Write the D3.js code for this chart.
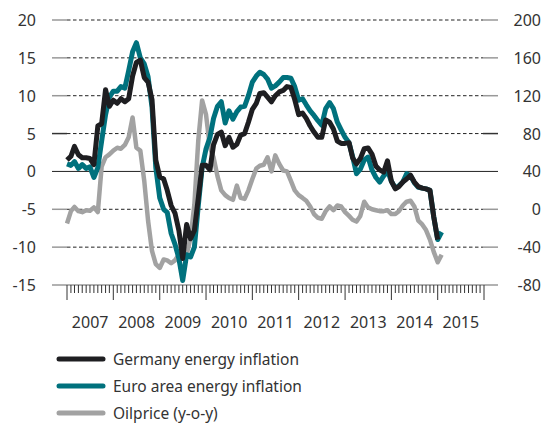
<!DOCTYPE html>
<html>
<head>
<meta charset="utf-8">
<script src="https://cdn.jsdelivr.net/npm/d3@7"></script>
<style>
  body { margin: 0; background: #fff; }
  text { font-family: "Noto Sans", "Open Sans", sans-serif; fill: #333; }
</style>
</head>
<body>
<div id="chart"></div>
<script>
// monthly series, first value = Jan 2007
const germany = [1.5, 2.0, 3.3, 2.2, 1.8, 1.8, 1.7, 0.9, 6.0, 6.3, 10.8, 8.6,
  9.4, 9.0, 9.6, 9.2, 9.6, 12.6, 14.4, 14.7, 12.4, 11.8, 9.5, 1.5,
  -0.7, -1.0, -2.5, -4.5, -5.5, -7.8, -11.5, -7.0, -8.9, -7.8, -3.5, 0.8,
  0.8, 0.2, 3.5, 4.9, 5.2, 3.4, 4.5, 3.2, 3.6, 4.8, 5.0, 6.5,
  8.2, 9.0, 10.3, 10.4, 9.8, 9.2, 10.0, 10.5, 10.7, 11.2, 11.1, 9.5,
  7.5, 7.7, 7.0, 6.0, 5.2, 4.5, 4.5, 6.8, 6.5, 5.6, 4.0, 3.7,
  3.7, 3.8, 1.8, 1.0, 1.7, 3.0, 3.1, 2.3, 0.7, 0.2, -0.1, 1.4,
  -1.3, -2.3, -2.0, -1.4, -1.0, -0.5, -1.4, -2.0, -2.2, -2.3, -2.5, -6.0,
  -9.0];
const euroArea = [1.0, 0.8, 1.3, 0.4, 0.9, 0.4, 0.6, -0.8, 0.5, 4.0, 7.5, 9.8,
  10.6, 10.6, 11.2, 11.0, 13.3, 15.8, 17.0, 15.0, 14.2, 12.5, 8.5, 0.5,
  -3.5, -5.0, -5.4, -8.2, -9.6, -11.5, -14.4, -11.0, -11.3, -10.0, -4.5, 0.5,
  3.0, 4.5, 7.0, 8.6, 9.2, 6.4, 8.0, 6.9, 7.9, 8.5, 8.6, 10.0,
  11.8, 12.6, 13.1, 12.8, 12.2, 11.0, 11.3, 11.8, 12.4, 12.4, 12.3, 11.2,
  9.4, 9.6, 8.8, 8.0, 7.4, 6.7, 6.1, 8.3, 9.1, 8.3, 6.5, 5.5,
  4.5, 3.8, 2.0, -0.3, 0.3, 1.5, 1.9, 0.2, -0.8, -1.4, -0.6, 0.1,
  -1.3, -2.2, -1.9, -1.4, -0.3, -0.6, -1.5, -2.1, -2.2, -2.3, -2.5, -6.0,
  -9.0, -8.0];
const oilPrice = [-15, -2, 2.5, -2, -3, -1, -1.5, 2, -3, 45, 55, 58,
  62, 65, 64, 68, 76, 97, 65, 62, 30, -12, -44, -58,
  -62, -53, -54, -57, -54, -48, -45, -48, -30, 5, 73, 115,
  100, 65, 55, 35, 20, 15, 12, 10, 25, 12, 11, 20,
  32, 43, 46, 47, 55, 40, 57, 48, 41, 40, 30, 20,
  15, 12, 9, 3, -5, -9, -10, -2, 3, -1, 4, 3,
  -3, -7, -11, -13, -7, 8, 2, 0, -1, -2, -2, -1,
  -5, -5, -2, 4, 8, 9, 3, -12, -16, -22, -32, -45,
  -56, -48];

const leftTicks = [-15, -10, -5, 0, 5, 10, 15, 20];
const rightTicks = [-80, -40, 0, 40, 80, 120, 160, 200];
const years = [2007, 2008, 2009, 2010, 2011, 2012, 2013, 2014, 2015];
const seriesNames = ['Germany energy inflation', 'Euro area energy inflation', 'Oilprice (y-o-y)'];
const seriesColors = ['#1e1e21', '#00717d', '#a2a2a2'];

const W = 543, H = 427;
const svg = d3.select('#chart').append('svg').attr('width', W).attr('height', H);

const x = d3.scaleTime()
  .domain([new Date(2007, 0, 1), new Date(2016, 0, 1)])
  .range([67, 484]);
const yL = d3.scaleLinear().domain([-15, 20]).range([285, 20]);
const yR = d3.scaleLinear().domain([-80, 200]).range([285, 20]);

const month = i => d3.timeMonth.offset(new Date(2007, 0, 1), i);

// grid lines
svg.append('g').selectAll('line')
  .data(leftTicks.filter(d => d > -15))
  .enter().append('line')
  .attr('x1', d => d === 0 ? 52 : 67)
  .attr('x2', d => d === 0 ? 498 : 483)
  .attr('y1', d => yL(d)).attr('y2', d => yL(d))
  .attr('stroke', '#222')
  .attr('stroke-width', 1)
  .attr('stroke-dasharray', d => d === 0 ? null : '3.5,2.5');

// short tick stubs left / right
const stubs = svg.append('g');
stubs.selectAll('.stubL')
  .data(leftTicks.filter(d => d !== 0 && d > -15))
  .enter().append('line')
  .attr('x1', 52).attr('x2', 67)
  .attr('y1', d => yL(d)).attr('y2', d => yL(d))
  .attr('stroke', d => d === 5 ? '#333' : '#999').attr('stroke-width', 1.5);
stubs.selectAll('.stubR')
  .data(leftTicks.filter(d => d !== 0 && d > -15))
  .enter().append('line')
  .attr('x1', 483).attr('x2', 498)
  .attr('y1', d => yL(d)).attr('y2', d => yL(d))
  .attr('stroke', d => d === 5 ? '#333' : '#999').attr('stroke-width', 1.5);

// bottom axis line
svg.append('line')
  .attr('x1', 52).attr('x2', 498)
  .attr('y1', yL(-15)).attr('y2', yL(-15))
  .attr('stroke', '#999').attr('stroke-width', 1.5);

// y labels
svg.append('g').selectAll('text')
  .data(leftTicks).enter().append('text')
  .attr('x', 36).attr('y', d => yL(d))
  .attr('text-anchor', 'end').attr('dominant-baseline', 'central')
  .attr('font-size', '16px')
  .text(d => d);
svg.append('g').selectAll('text')
  .data(rightTicks).enter().append('text')
  .attr('x', 541).attr('y', d => yR(d))
  .attr('text-anchor', 'end').attr('dominant-baseline', 'central')
  .attr('font-size', '16px')
  .text(d => d);

// x ticks: monthly minor, yearly major
const xTicks = d3.timeMonth.range(new Date(2007, 0, 1), new Date(2016, 0, 2));
svg.append('g').selectAll('line')
  .data(xTicks).enter().append('line')
  .attr('x1', d => x(d)).attr('x2', d => x(d))
  .attr('y1', yL(-15))
  .attr('y2', d => d.getMonth() === 0 ? yL(-15) + 15 : yL(-15) + 8)
  .attr('stroke', '#333').attr('stroke-width', 1);

svg.append('g').selectAll('text')
  .data(years).enter().append('text')
  .attr('x', d => (x(new Date(d, 0, 1)) + x(new Date(d + 1, 0, 1))) / 2)
  .attr('y', 322)
  .attr('text-anchor', 'middle').attr('dominant-baseline', 'central')
  .attr('font-size', '16px')
  .text(d => d);

// series lines
const lineL = d3.line().x((d, i) => x(month(i))).y(d => yL(d));
const lineR = d3.line().x((d, i) => x(month(i))).y(d => yR(d));

svg.append('path').datum(oilPrice)
  .attr('d', lineR).attr('fill', 'none')
  .attr('stroke', seriesColors[2]).attr('stroke-width', 4.5)
  .attr('stroke-linejoin', 'round');
svg.append('path').datum(euroArea)
  .attr('d', lineL).attr('fill', 'none')
  .attr('stroke', seriesColors[1]).attr('stroke-width', 5)
  .attr('stroke-linejoin', 'round');
svg.append('path').datum(germany)
  .attr('d', lineL).attr('fill', 'none')
  .attr('stroke', seriesColors[0]).attr('stroke-width', 5)
  .attr('stroke-linejoin', 'round');

// legend
const legend = svg.append('g').selectAll('g')
  .data(seriesNames).enter().append('g')
  .attr('transform', (d, i) => `translate(0, ${359 + i * 27})`);
legend.append('line')
  .attr('x1', 59).attr('x2', 103)
  .attr('stroke', (d, i) => seriesColors[i])
  .attr('stroke-width', 5).attr('stroke-linecap', 'round');
legend.append('text')
  .attr('x', 113).attr('y', 0)
  .attr('dominant-baseline', 'central')
  .attr('font-size', '15.5px')
  .text(d => d);
</script>
</body>
</html>
